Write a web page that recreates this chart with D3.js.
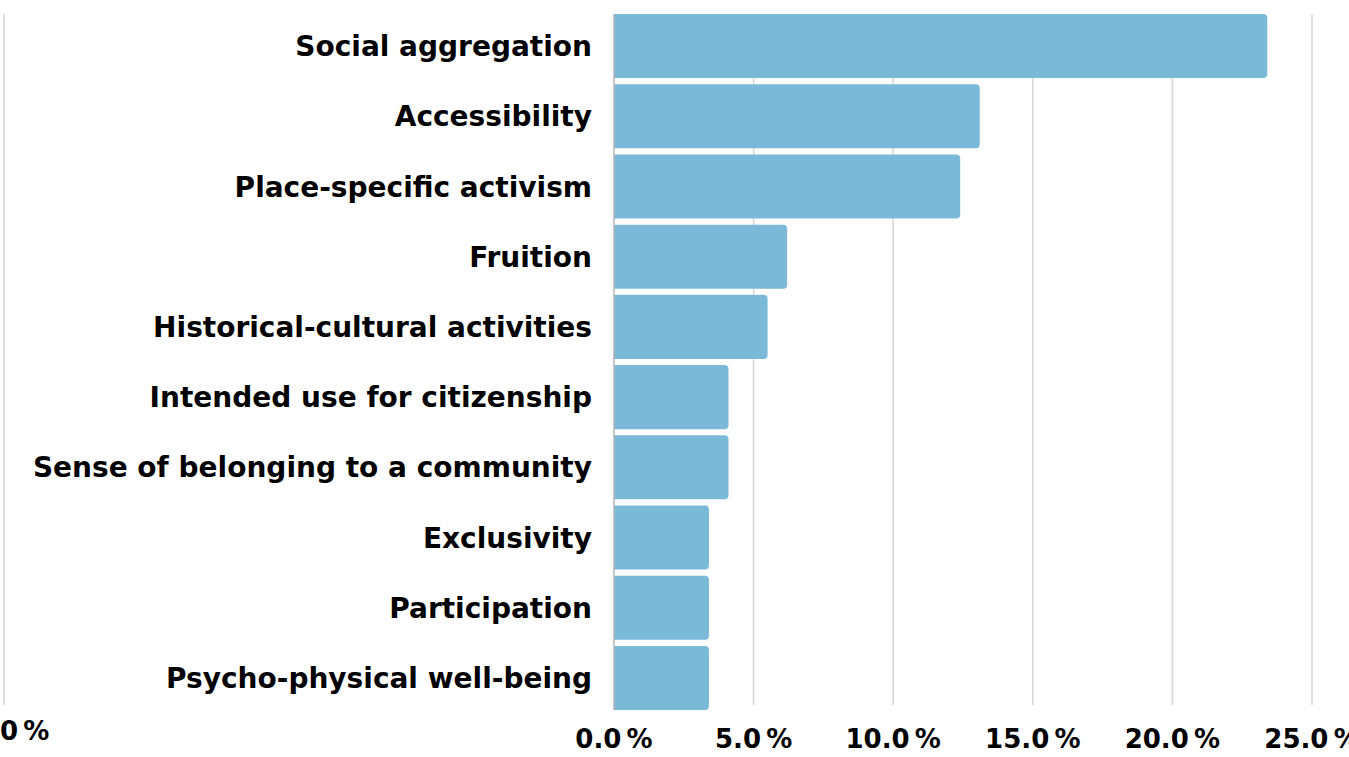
<!DOCTYPE html>
<html>
<head>
<meta charset="utf-8">
<script src="https://cdn.jsdelivr.net/npm/d3@7"></script>
<style>
  html, body { margin: 0; padding: 0; background: #fff; }
  svg { display: block; }
  text { font-family: "DejaVu Sans", sans-serif; font-weight: bold; fill: #000; }
</style>
</head>
<body>
<svg id="chart" width="1349" height="757"></svg>
<script>
// Share of responses per theme (%)
const categories = [
  "Social aggregation",
  "Accessibility",
  "Place-specific activism",
  "Fruition",
  "Historical-cultural activities",
  "Intended use for citizenship",
  "Sense of belonging to a community",
  "Exclusivity",
  "Participation",
  "Psycho-physical well-being"
];
const values = [23.4, 13.1, 12.4, 6.2, 5.5, 4.1, 4.1, 3.4, 3.4, 3.4];
const tickValues = [0, 5, 10, 15, 20, 25];

const W = 1349, H = 757;
const margin = { top: 14, right: 37, bottom: 47, left: 614 };
const svg = d3.select("#chart");

const x = d3.scaleLinear().domain([0, 25]).range([margin.left, W - margin.right]);
const y = d3.scaleBand().domain(categories).range([margin.top, H - margin.bottom]).paddingInner(0.088).paddingOuter(0);

// vertical gridlines
svg.append("g").selectAll("line").data(tickValues.slice(1)).join("line")
  .attr("x1", d => x(d)).attr("x2", d => x(d))
  .attr("y1", margin.top).attr("y2", H - margin.bottom - 5)
  .attr("stroke", "#d6d6d6").attr("stroke-width", 1.5);

// leftmost gridline
svg.append("line").attr("x1", 4).attr("x2", 4)
  .attr("y1", margin.top).attr("y2", H - margin.bottom - 5)
  .attr("stroke", "#d6d6d6").attr("stroke-width", 1.5);

// bars: square on the axis side, rounded at the end
const r = 4;
svg.append("g").selectAll("path").data(values).join("path")
  .attr("fill", "#7ab9d8")
  .attr("d", (d, i) => {
    const x0 = x(0), x1 = x(d), y0 = y(categories[i]), h = y.bandwidth();
    return `M${x0},${y0}H${x1 - r}Q${x1},${y0} ${x1},${y0 + r}V${y0 + h - r}Q${x1},${y0 + h} ${x1 - r},${y0 + h}H${x0}Z`;
  });

// baseline
svg.append("line").attr("x1", x(0)).attr("x2", x(0))
  .attr("y1", margin.top).attr("y2", H - margin.bottom)
  .attr("stroke", "#b5b5b5").attr("stroke-width", 1.5);

// category labels
svg.append("g").selectAll("text").data(categories).join("text")
  .attr("x", margin.left - 22)
  .attr("y", d => y(d) + y.bandwidth() / 2)
  .attr("dy", "0.36em")
  .attr("text-anchor", "end")
  .attr("font-size", 28)
  .text(d => d);

// x tick labels
svg.append("g").selectAll("text").data(tickValues).join("text")
  .attr("x", d => x(d))
  .attr("y", 748)
  .attr("text-anchor", "middle")
  .attr("font-size", 26)
  .text(d => d3.format(".1f")(d) + "\u2009%");

svg.append("text").attr("x", 0).attr("y", 740).attr("font-size", 26).text("0\u2009%");
</script>
</body>
</html>
